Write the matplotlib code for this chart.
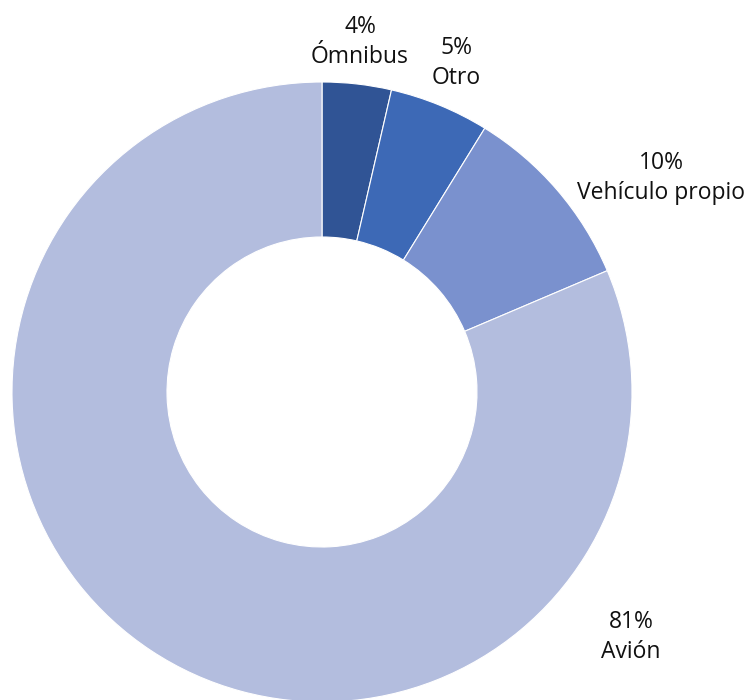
import matplotlib.pyplot as plt

categorias = ['Ómnibus', 'Otro', 'Vehículo propio', 'Avión']
valores = [3.6, 5.2, 9.8, 81.4]
colores = ['#305495', '#3D69B6', '#7A91CE', '#B3BDDE']

# posiciones de las etiquetas en píxeles (x, y desde arriba)
pos_etiquetas = [(360, 42), (456, 63), (661, 178), (631, 637)]

W, H = 749, 700
cx, cy, R = 322, 392, 310

plt.rcParams['font.family'] = ['Open Sans', 'DejaVu Sans']

fig = plt.figure(figsize=(W / 100, H / 100), dpi=100)
ax = fig.add_axes([0, 0, 1, 1])

ax.pie(valores, colors=colores, startangle=90, counterclock=False,
       radius=1, wedgeprops=dict(width=0.5, edgecolor='white', linewidth=0.8))

ax.set_xlim(-cx / R, (W - cx) / R)
ax.set_ylim(-(H - cy) / R, cy / R)
ax.set_aspect('equal')
ax.axis('off')

total = sum(valores)
for cat, v, (px, py) in zip(categorias, valores, pos_etiquetas):
    x = (px - cx) / R
    y = (cy - py) / R
    ax.text(x, y, f'{round(v / total * 100)}%\n{cat}', ha='center', va='center',
            fontsize=16.5, color='#111111', linespacing=1.35)

plt.savefig('out.png', dpi=100)
